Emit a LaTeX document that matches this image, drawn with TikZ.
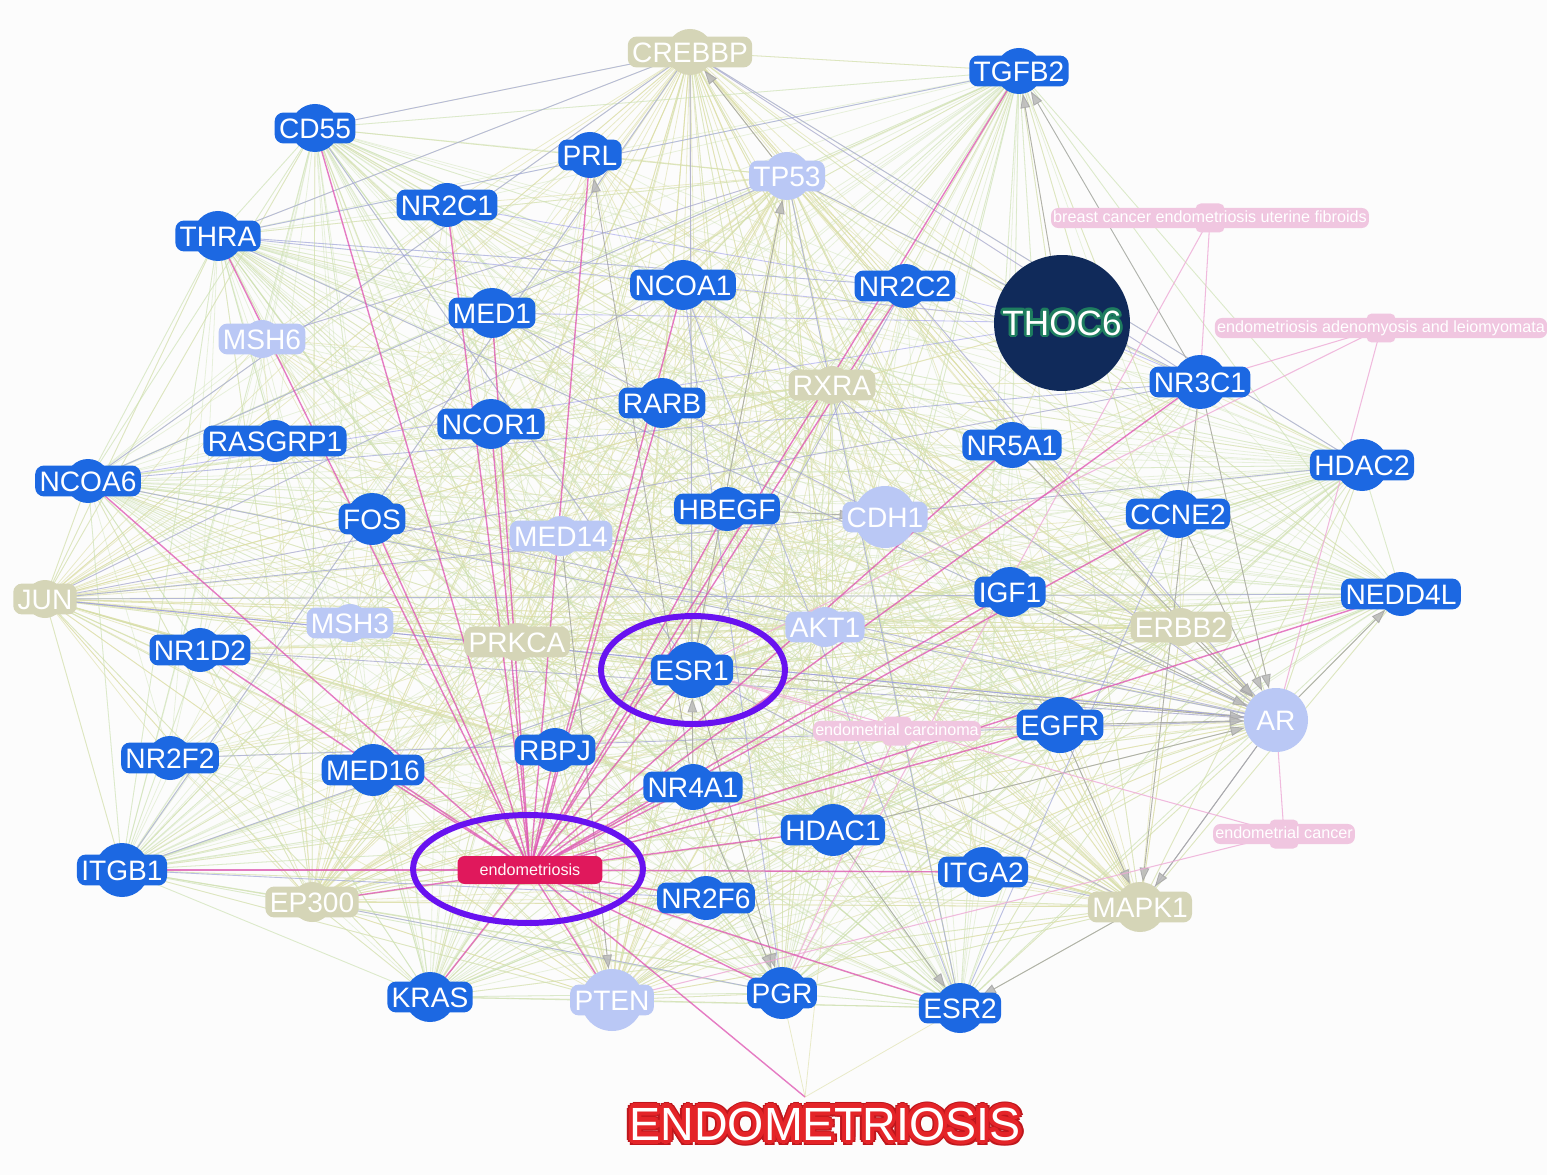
\documentclass[tikz,border=0pt]{standalone}
\usepackage{fontspec}
\setmainfont{Liberation Sans}
\usetikzlibrary{shapes.geometric,arrows.meta}
\definecolor{nblue}{RGB}{28,104,226}
\definecolor{lblue}{RGB}{186,200,245}
\definecolor{khaki}{RGB}{213,213,183}
\definecolor{pinkn}{RGB}{240,198,224}
\definecolor{endored}{RGB}{224,24,92}
\definecolor{ringpurple}{RGB}{104,18,240}
\definecolor{thocnavy}{RGB}{16,42,90}
\definecolor{ekhaki}{RGB}{220,222,165}
\definecolor{egreen}{RGB}{206,226,180}
\definecolor{elav}{RGB}{150,150,235}
\definecolor{epink}{RGB}{222,80,176}
\definecolor{epale}{RGB}{238,170,214}
\definecolor{bgc}{RGB}{252,252,252}
\pgfdeclarelayer{bgfill}
\pgfdeclarelayer{edges}
\pgfsetlayers{bgfill,edges,main}
% halo: #1 hex colour, #2 radius, #3 text (copies coloured at font level)
\newcommand\halo[3]{%
  \foreach \ang in {0,30,...,330}{%
    \pgfmathsetlengthmacro\hx{#2*cos(\ang)}%
    \pgfmathsetlengthmacro\hy{#2*sin(\ang)}%
    \rlap{\hspace*{\hx}\raisebox{\hy}{\addfontfeatures{Color=#1}#3}}}}
\tikzset{
  circb/.style={circle,fill=nblue,inner sep=0pt},
  circl/.style={circle,fill=lblue,inner sep=0pt},
  circk/.style={circle,fill=khaki,inner sep=0pt},
  labb/.style={fill=nblue,text=white,rounded corners=5pt,
    font=\fontsize{16}{18}\selectfont,text height=11.6pt,text depth=0pt,
    inner xsep=2.5pt,inner ysep=3pt},
  labl/.style={labb,fill=lblue},
  labk/.style={labb,fill=khaki},
  dsq/.style={fill=pinkn,rounded corners=3pt,minimum size=0.58cm,inner sep=0pt},
  dlab/.style={fill=pinkn,text=white,rounded corners=4pt,
    font=\fontsize{9.2}{10}\selectfont,text height=7pt,text depth=2pt,inner sep=1.2pt},
  ek/.style={draw=ekhaki,line width=0.45pt,opacity=0.6},
  eg/.style={draw=egreen,line width=0.45pt,opacity=0.45},
  el/.style={draw=elav,line width=0.5pt,opacity=0.55},
  ep/.style={draw=epink,line width=0.8pt,opacity=0.75},
  epl/.style={draw=epale,line width=0.6pt,opacity=0.8},
  ga/.style={draw=gray!70,line width=0.5pt,opacity=0.85,
    -{Triangle[length=8pt,width=5.5pt,fill=gray!55]}},
  ring/.style={ellipse,draw=ringpurple,line width=3.4pt,inner sep=0pt},
}
\newcommand\gnode[5]{\node[circ#1,minimum size=#4*0.02cm] (#2) at (#3) {};
  \node[lab#1] (#2l) at (#3) {#5};}
\newcommand\dnode[3]{\node[dsq] (#1sq) at (#2) {};
  \node[dlab] (#1) at (#2) {#3};}
\def\allnodes{CD55,PRL,TGFB2,THRA,NR2C1,NCOA1,NR2C2,MED1,NR3C1,RARB,NCOR1,RASGRP1,NR5A1,NCOA6,HDAC2,FOS,HBEGF,CCNE2,IGF1,NEDD4L,NR1D2,ESR1,EGFR,NR2F2,MED16,RBPJ,NR4A1,HDAC1,ITGB1,ITGA2,NR2F6,KRAS,PGR,ESR2,TP53,MSH6,MED14,CDH1,MSH3,AKT1,AR,PTEN,CREBBP,RXRA,JUN,PRKCA,ERBB2,EP300,MAPK1}
\def\hubsA{CREBBP,JUN,EP300,MAPK1,AR,TP53,ESR1,PTEN,ERBB2,PRKCA,RXRA,AKT1}
\def\hubsB{NCOA6,THRA,CD55,ITGB1,NEDD4L,HDAC2,KRAS,ESR2,PGR,TGFB2,EGFR,HDAC1}
\def\pinklist{CD55,THRA,PRL,NR2C1,MED1,NCOR1,RARB,FOS,TGFB2,NR2C2,NR5A1,NR3C1,CCNE2,NEDD4L,IGF1,EGFR,HDAC1,ITGA2,NR2F6,PGR,ESR2,KRAS,PTEN,ITGB1,NR1D2,NCOA6,MED16,RBPJ,NR4A1,ESR1,HBEGF,NCOA1,EP300,tt}
\begin{document}
\begin{tikzpicture}[x=0.02cm,y=-0.02cm]
\begin{pgfonlayer}{bgfill}
\fill[bgc] (0,0) rectangle (1547,1175);
\end{pgfonlayer}
\path[use as bounding box] (0,0) rectangle (1547,1175);
% gene nodes
\gnode{k}{CREBBP}{690,52}{46}{CREBBP}
\gnode{b}{TGFB2}{1019,71}{46}{TGFB2}
\gnode{b}{CD55}{315,128}{48}{CD55}
\gnode{b}{PRL}{590,155}{46}{PRL}
\gnode{l}{TP53}{787,176}{48}{TP53}
\gnode{b}{NR2C1}{447,205}{44}{NR2C1}
\gnode{b}{THRA}{218,236}{50}{THRA}
\gnode{b}{NCOA1}{683,285}{50}{NCOA1}
\gnode{b}{NR2C2}{905,286}{44}{NR2C2}
\gnode{b}{MED1}{492,313}{50}{MED1}
\gnode{l}{MSH6}{262,339}{38}{MSH6}
\gnode{k}{RXRA}{832,385}{38}{RXRA}
\gnode{b}{NR3C1}{1200,382}{54}{NR3C1}
\gnode{b}{RARB}{662,403}{50}{RARB}
\gnode{b}{NCOR1}{491,424}{50}{NCOR1}
\gnode{b}{RASGRP1}{275,441}{42}{RASGRP1}
\gnode{b}{NR5A1}{1012,445}{46}{NR5A1}
\gnode{b}{NCOA6}{88,481}{44}{NCOA6}
\gnode{b}{HDAC2}{1362,465}{52}{HDAC2}
\gnode{b}{FOS}{372,519}{52}{FOS}
\gnode{b}{HBEGF}{727,509}{44}{HBEGF}
\gnode{l}{MED14}{561,536}{40}{MED14}
\gnode{l}{CDH1}{885,517}{62}{CDH1}
\gnode{b}{CCNE2}{1178,514}{48}{CCNE2}
\gnode{k}{JUN}{45,599}{38}{JUN}
\gnode{b}{IGF1}{1010,592}{50}{IGF1}
\gnode{b}{NEDD4L}{1401,594}{44}{NEDD4L}
\gnode{l}{MSH3}{350,623}{38}{MSH3}
\gnode{k}{PRKCA}{517,642}{38}{PRKCA}
\gnode{l}{AKT1}{825,627}{40}{AKT1}
\gnode{k}{ERBB2}{1181,627}{38}{ERBB2}
\gnode{b}{NR1D2}{200,650}{44}{NR1D2}
\gnode{b}{ESR1}{692,670}{56}{ESR1}
\gnode{l}{AR}{1276,720}{64}{AR}
\gnode{b}{EGFR}{1060,725}{56}{EGFR}
\gnode{b}{NR2F2}{170,758}{44}{NR2F2}
\gnode{b}{MED16}{373,770}{52}{MED16}
\gnode{b}{RBPJ}{555,750}{44}{RBPJ}
\gnode{b}{NR4A1}{693,787}{46}{NR4A1}
\gnode{b}{HDAC1}{833,830}{52}{HDAC1}
\gnode{b}{ITGB1}{122,870}{54}{ITGB1}
\gnode{b}{ITGA2}{983,872}{50}{ITGA2}
\gnode{k}{EP300}{312,902}{40}{EP300}
\gnode{b}{NR2F6}{706,898}{44}{NR2F6}
\gnode{k}{MAPK1}{1140,907}{50}{MAPK1}
\gnode{b}{KRAS}{430,997}{50}{KRAS}
\gnode{l}{PTEN}{612,1000}{62}{PTEN}
\gnode{b}{PGR}{782,993}{52}{PGR}
\gnode{b}{ESR2}{960,1008}{50}{ESR2}
% THOC6
\node[circle,fill=thocnavy,minimum size=2.72cm,inner sep=0pt,
  font=\fontsize{20}{22}\selectfont,text=white] (THOC6) at (1062,323)
  {\halo{1E7D5F}{1.6pt}{THOC6}\addfontfeatures{Color=FFFFFF}THOC6};
% disease nodes
\dnode{bc}{1210,218}{breast cancer endometriosis uterine fibroids}
\dnode{ea}{1381,328}{endometriosis adenomyosis and leiomyomata}
\dnode{carc}{897,731}{endometrial carcinoma}
\dnode{ec}{1284,834}{endometrial cancer}
\node[fill=endored,rounded corners=4pt,text=white!88!pink,
  font=\fontsize{9.2}{10}\selectfont,minimum width=2.9cm,minimum height=0.56cm,
  inner sep=0pt] (endo) at (530,870) {endometriosis};
% rings
\node[ring,minimum width=3.68cm,minimum height=2.16cm] (ring1) at (693,670) {};
\node[ring,minimum width=4.6cm,minimum height=2.16cm] (ring2) at (528,869) {};
% title
\node[font=\fontsize{26.5}{30}\selectfont,inner sep=0pt] (title) at (825,1124)
  {\halo{BE161C}{3.3pt}{ENDOMETRIOSIS}\halo{E42428}{2.3pt}{ENDOMETRIOSIS}\addfontfeatures{Color=FFFFFF}ENDOMETRIOSIS};
\coordinate (tt) at (805,1097);
% edges
\begin{pgfonlayer}{edges}
\foreach \a in \hubsA {\foreach \b in \allnodes {\ifx\a\b\else\draw[ek] (\a.center) -- (\b.center);\fi}}
\foreach \a in \hubsB {\foreach \b in \allnodes {\ifx\a\b\else\draw[eg] (\a.center) -- (\b.center);\fi}}
\foreach \a/\b in {THOC6/TP53,THOC6/CREBBP,THOC6/NCOA1,THOC6/RXRA,THOC6/NR5A1,THOC6/TGFB2,THOC6/HDAC2,THOC6/JUN,THOC6/ESR1,tt/ESR2,tt/PGR,tt/HDAC1}
  {\draw[ek] (\a.center) -- (\b.center);}
\foreach \a/\b in {CREBBP/THRA,CREBBP/CD55,CREBBP/NCOA6,CREBBP/ITGB1,CREBBP/NR3C1,CREBBP/HDAC2,CREBBP/ESR1,TP53/NR3C1,TP53/MSH6,TP53/NCOA6,TP53/ESR2,JUN/NR3C1,JUN/AR,JUN/HDAC2,JUN/NCOA1,JUN/NEDD4L,AR/NR1D2,AR/NR2F2,AR/THRA,AR/MED1,AR/NCOA1,AR/NR2C2,AR/MAPK1,AR/JUN,AR/FOS,NCOA6/NR3C1,NCOA6/AR,ITGB1/ESR1,ITGB1/NR2F6,EP300/PGR,ESR2/NCOA1,ESR2/CCNE2,MAPK1/ITGA2,THRA/NR2C2,THRA/TGFB2,NR2C1/NR2C2,CD55/ESR1,THOC6/NR3C1,THOC6/NR2C2,THOC6/MED1,THOC6/THRA,THOC6/NCOA6,MAPK1/ESR1,PGR/NCOA1,ESR1/NR2C2}
  {\draw[el] (\a.center) -- (\b.center);}
\foreach \a/\b in {TP53/CREBBP,NR3C1/TGFB2,NR4A1/PRL,ESR1/TP53,ESR1/AR,EGFR/AR,IGF1/AR,ERBB2/AR,CCNE2/AR,NR3C1/AR,HDAC1/AR,NR5A1/AR,AR/NEDD4L,AR/MAPK1,MAPK1/ESR2,ESR1/PGR,NR4A1/PGR,MED14/PTEN,NR4A1/ESR1,HDAC1/ESR2,EGFR/MAPK1,HBEGF/CDH1,NR3C1/MAPK1,THOC6/TGFB2}
  {\draw[ga] (\a) -- (\b);}
\foreach \a/\b in {bc/NR3C1,bc/PGR,ea/ESR1,ea/AR,ea/NR3C1,ec/AR,ec/PTEN,ec/ESR1,carc/ESR1,carc/PGR,carc/EGFR}
  {\draw[epl] (\a.center) -- (\b.center);}
\foreach \b in \pinklist {\draw[ep] (endo.center) -- (\b.center);}
\end{pgfonlayer}
\end{tikzpicture}
\end{document}
